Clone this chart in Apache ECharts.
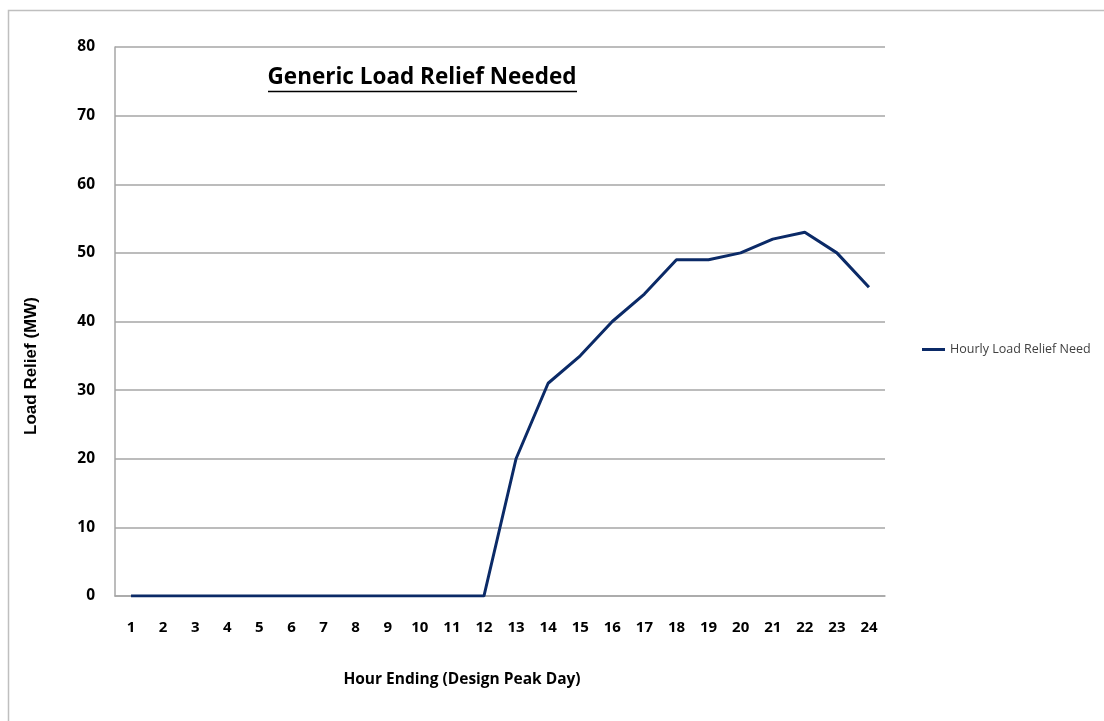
<!DOCTYPE html>
<html><head><meta charset="utf-8">
<script src="https://cdn.jsdelivr.net/npm/echarts@6/dist/echarts.min.js"></script>
<style>html,body{margin:0;padding:0;background:#fff}#c{width:1104px;height:721px}</style>
</head><body><div id="c"></div>
<script>
const hours = ['1','2','3','4','5','6','7','8','9','10','11','12','13','14','15','16','17','18','19','20','21','22','23','24'];
const loadRelief = [0,0,0,0,0,0,0,0,0,0,0,0,20,31,35,40,44,49,49,50,52,53,50,45];
const seriesName = 'Hourly Load Relief Need';
const chartTitle = 'Generic Load Relief Needed';
const yAxisTitle = 'Load Relief (MW)';
const xAxisTitle = 'Hour Ending (Design Peak Day)';

const font = '"Open Sans", Lato, sans-serif';
const chart = echarts.init(document.getElementById('c'), null, {renderer:'canvas'});
chart.setOption({
  animation:false,
  backgroundColor:'#fff',
  grid:{left:115, top:47, width:770, height:549},
  legend:{
    data:[{name:seriesName, icon:'rect'}],
    left:917, top:338, itemWidth:23, itemHeight:3, itemGap:10,
    textStyle:{fontFamily:font, fontSize:12.5, color:'#404040'}
  },
  xAxis:{
    type:'category', data:hours, boundaryGap:true,
    axisLine:{show:true, lineStyle:{color:'#a6a6a6', width:1.5}},
    axisTick:{show:false},
    axisLabel:{fontFamily:font, fontWeight:'bold', fontSize:15, color:'#000', margin:24},
    name:xAxisTitle, nameLocation:'middle', nameGap:76,
    nameTextStyle:{fontFamily:font, fontWeight:'bold', fontSize:15.5, color:'#000', padding:[0,76,0,0]}
  },
  yAxis:{
    type:'value', min:0, max:80, interval:10,
    axisLine:{show:true, lineStyle:{color:'#a6a6a6', width:1.5}},
    axisTick:{show:false},
    splitLine:{lineStyle:{color:'#a6a6a6', width:1.5}},
    axisLabel:{fontFamily:font, fontWeight:'bold', fontSize:15.5, color:'#000', margin:20}
  },
  series:[{
    name:seriesName, type:'line', data:loadRelief,
    symbol:'none', lineStyle:{color:'#0b2a67', width:3}, itemStyle:{color:'#0b2a67'}
  }],
  graphic:[
    {type:'rect', shape:{x:8.5, y:10.5, width:1200, height:800}, style:{fill:'none', stroke:'#bfbfbf', lineWidth:1.5}, silent:true, z:-10},
    {type:'text', x:422, y:78, style:{text:chartTitle, font:'bold 22.5px '+font, fill:'#000', align:'center', verticalAlign:'middle'}},
    {type:'line', shape:{x1:268, y1:91.5, x2:577, y2:91.5}, style:{stroke:'#000', lineWidth:1.5}},
    {type:'text', x:31, y:366, rotation:Math.PI/2, style:{text:yAxisTitle, font:'bold 17px "Liberation Sans", Arial, sans-serif', fill:'#000', align:'center', verticalAlign:'middle'}}
  ]
});
</script></body></html>
